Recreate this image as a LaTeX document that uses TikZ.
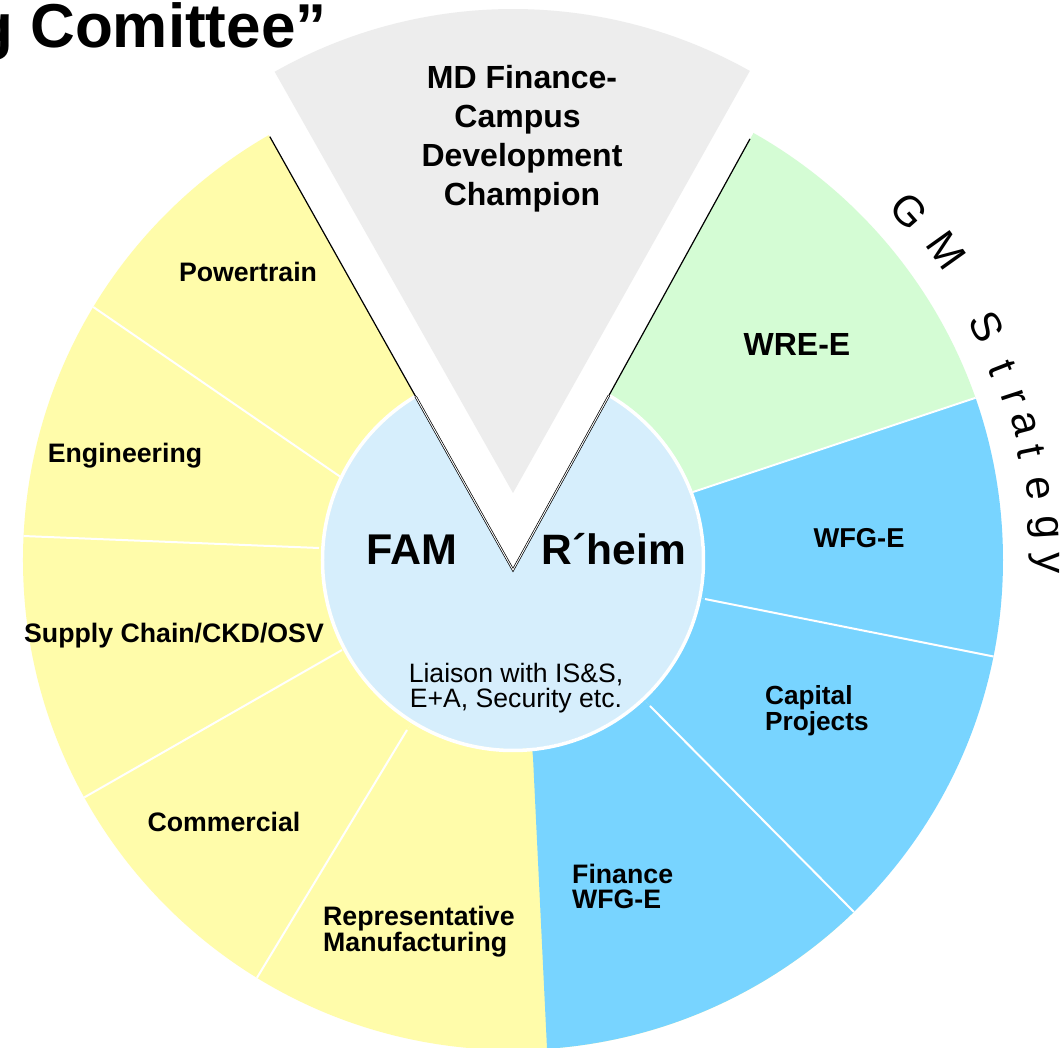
\documentclass[tikz,border=0pt]{standalone}
\usepackage{fontspec}
\setmainfont{Liberation Sans}
\usetikzlibrary{calc}
\definecolor{segY}{HTML}{FFFCAA}
\definecolor{segG}{HTML}{D4FCD4}
\definecolor{segB}{HTML}{78D4FF}
\definecolor{hub}{HTML}{D6EEFC}
\definecolor{wedge}{HTML}{EDEDED}
\newcommand{\stackL}[1]{\vtop{\halign{##\hfil\cr#1\crcr}}}
\newcommand{\stackC}[1]{\vtop{\halign{\hfil##\hfil\cr#1\crcr}}}
\begin{document}
\begin{tikzpicture}[x=1pt,y=1pt,
  divider/.style={white, line width=2pt},
  vline/.style={black, line width=1.2pt},
  lbl/.style={inner sep=0pt, font=\fontsize{26.7}{26}\selectfont\bfseries},
  gm/.style={inner sep=0pt, font=\fontsize{42}{46}\selectfont}]
\useasboundingbox (-513,-488) rectangle (548,560);
\fill[white] (-513,-488) rectangle (548,560);

\coordinate (O) at (0,0);
\coordinate (apex) at (0,-10);
\coordinate (gapex) at (0,67);
\coordinate (Bi2) at (-168,80);   \coordinate (Bp2) at (-411,247);
\coordinate (Bi3) at (-194,12);   \coordinate (Bp3) at (-490,24);
\coordinate (Bi4) at (-171,-90);  \coordinate (Bp4) at (-428,-237);
\coordinate (Bi5) at (-106,-170); \coordinate (Bp5) at (-258,-421);
\coordinate (Bi6) at (20,-197);   \coordinate (Bp6) at (34,-488);
\coordinate (Bi7) at (137,-146);  \coordinate (Bp7) at (342,-353);
\coordinate (Bi8) at (192,-39);   \coordinate (Bp8) at (483,-97);
\coordinate (Bi9) at (180,68);    \coordinate (Bp9) at (462,162);
\coordinate (Bo1) at ($(apex)+(119.3:900)$);
\coordinate (Bo10) at ($(apex)+(61.2:900)$);
\foreach \k in {2,...,9} \coordinate (Bo\k) at ($(Bi\k)!2.6!(Bp\k)$);

\begin{scope}
  \clip (O) circle[radius=490];
  \fill[segY] (O) -- (apex) -- (Bo1) -- (Bo2) -- (Bi2) -- cycle;
  \fill[segY] (O) -- (Bi2) -- (Bo2) -- (Bo3) -- (Bi3) -- cycle;
  \fill[segY] (O) -- (Bi3) -- (Bo3) -- (Bo4) -- (Bi4) -- cycle;
  \fill[segY] (O) -- (Bi4) -- (Bo4) -- (Bo5) -- (Bi5) -- cycle;
  \fill[segY] (O) -- (Bi5) -- (Bo5) -- (Bo7) -- (Bi7) -- cycle;
  \fill[segB] (O) -- (Bi6) -- (Bo6) -- (Bo7) -- (Bi7) -- cycle;
  \fill[segB] (O) -- (Bi7) -- (Bo7) -- (Bo8) -- (Bi8) -- cycle;
  \fill[segB] (O) -- (Bi8) -- (Bo8) -- (Bo9) -- (Bi9) -- cycle;
  \fill[segG] (O) -- (Bi9) -- (Bo9) -- (Bo10) -- (apex) -- cycle;
  \foreach \k in {2,3,4,5,7,8,9} \draw[divider] (Bi\k) -- (Bo\k);
\end{scope}

% hub
\fill[hub] (O) circle[radius=189];
\draw[white, line width=3.5pt] (O) circle[radius=190.5];

% white V gap
\coordinate (gR) at ($(apex)+(61.2:700)$);
\coordinate (gL) at ($(apex)+(119.3:700)$);
\fill[white] (apex) -- (gR) -- (gL) -- cycle;
\coordinate (vR) at ($(apex)+(61.2:492)$);
\coordinate (vL) at ($(apex)+(119.3:497)$);
\coordinate (iR) at ($(apex)+(61.2:199)$);
\coordinate (iL) at ($(apex)+(119.3:199)$);
\draw[vline] (apex) -- (vR);
\draw[vline] (apex) -- (vL);
\draw[line width=0.7pt, double=white, double distance=0.9pt] (iL) -- (apex) -- (iR);

% grey wedge
\fill[wedge] (gapex) -- ++(60.7:484) arc[start angle=60.7, end angle=119.5, radius=484] -- cycle;

% texts
\node[anchor=base west, inner sep=0pt, font=\fontsize{62}{70}\selectfont\bfseries] (title) at (-538,512) {g Comittee”};
\node[anchor=base, inner sep=0pt, font=\fontsize{32}{38.7}\selectfont\bfseries] (md) at (9,471) {\stackC{MD Finance-\cr Campus \cr Development\cr Champion}};
\node[lbl, anchor=base] (pt) at (-265,278) {Powertrain};
\node[lbl, anchor=base] (eng) at (-388,97) {Engineering};
\node[lbl, anchor=base] (sc) at (-339,-83) {Supply Chain/CKD/OSV};
\node[lbl, anchor=base] (com) at (-289,-272) {Commercial};
\node[lbl, anchor=base west] (rep) at (-190,-366) {\stackL{Representative\cr Manufacturing}};
\node[lbl, anchor=base west, font=\fontsize{26.7}{25}\selectfont\bfseries] (fin) at (59,-324) {\stackL{Finance\cr WFG-E}};
\node[lbl, anchor=base west, font=\fontsize{26.2}{26}\selectfont\bfseries] (cap) at (252,-145) {\stackL{Capital\cr Projects}};
\node[lbl, anchor=base, font=\fontsize{27.3}{28}\selectfont\bfseries] (wfg) at (346,12) {WFG-E};
\node[lbl, anchor=base, font=\fontsize{32}{34}\selectfont\bfseries] (wre) at (284,204) {WRE-E};
\node[inner sep=0pt, anchor=base, font=\fontsize{43}{46}\selectfont\bfseries] (fam) at (-101,-5) {FAM};
\node[inner sep=0pt, anchor=base, font=\fontsize{42.5}{46}\selectfont\bfseries] (rh) at (101,-5) {R´heim};
\node[inner sep=0pt, anchor=base, font=\fontsize{26.6}{25}\selectfont] (lia) at (3,-123) {\stackC{Liaison with IS\&S,\cr E+A, Security etc.}};

\foreach \ch/\ang/\rad [count=\i] in {G/41.4/528, M/35.5/533, S/26.2/528, t/21.4/525, r/18.0/526, a/14.9/529, t/11.8/529, e/7.8/530, g/3.5/531, y/-0.3/531}
  \node[gm, rotate=\ang-90] (gm\i) at (\ang:\rad) {\ch};
\end{tikzpicture}
\end{document}
